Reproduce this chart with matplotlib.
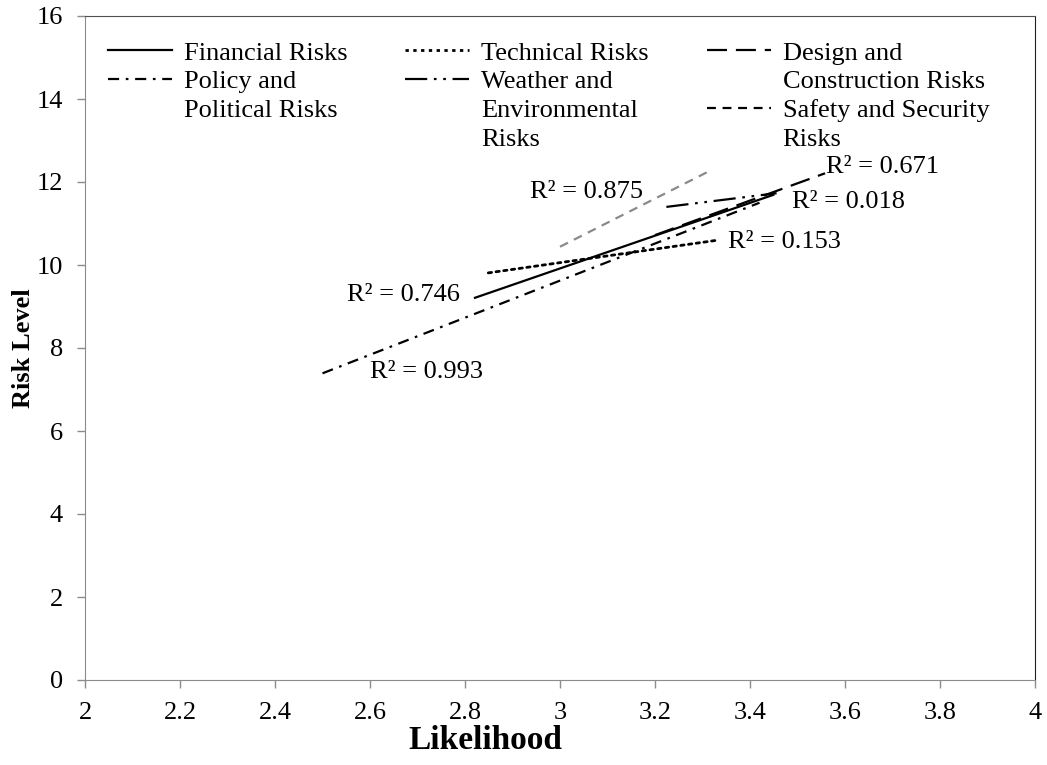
import matplotlib
matplotlib.use("Agg")
import matplotlib.pyplot as plt
from matplotlib.lines import Line2D

# trendline endpoints (likelihood, risk level)
financial_x = [2.821, 3.449]
financial_y = [9.21, 11.69]
technical_x = [2.849, 3.333]
technical_y = [9.81, 10.60]
policy_x = [2.50, 3.42]
policy_y = [7.39, 11.50]
weather_x = [3.224, 3.456]
weather_y = [11.40, 11.73]
design_x = [3.20, 3.558]
design_y = [10.72, 12.21]
safety_x = [3.00, 3.319]
safety_y = [10.44, 12.29]

r2_labels = ["R² = 0.746", "R² = 0.993", "R² = 0.875", "R² = 0.153", "R² = 0.018", "R² = 0.671"]
r2_pos = [(2.552, 9.28), (2.600, 7.43), (2.937, 11.77), (3.354, 10.56), (3.488, 11.53), (3.561, 12.37)]

xticks = [2, 2.2, 2.4, 2.6, 2.8, 3, 3.2, 3.4, 3.6, 3.8, 4]
xtick_labels = ["2", "2.2", "2.4", "2.6", "2.8", "3", "3.2", "3.4", "3.6", "3.8", "4"]
yticks = [0, 2, 4, 6, 8, 10, 12, 14, 16]

plt.rcParams['font.family'] = ['Liberation Serif', 'DejaVu Serif']

# line styles (Excel-like)
SOLID = '-'
DOT = (0, (1.2, 1.6))
DASHDOT = (0, (5, 3, 1.2, 3))
DASHDOTDOT = (0, (10, 3, 1.2, 3, 1.2, 3))
LONGDASH = (0, (9, 4))
DASH = (0, (4, 3))

FS = 19

fig = plt.figure(figsize=(10.47, 7.65), dpi=100)
ax = fig.add_axes([85/1047, 85/765, 950/1047, 664/765])

lw = 1.6
ax.plot(financial_x, financial_y, color='black', lw=lw, linestyle=SOLID)
ax.plot(technical_x, technical_y, color='black', lw=2.0, linestyle=DOT, dash_capstyle='round')
ax.plot(policy_x, policy_y, color='black', lw=lw, linestyle=DASHDOT)
ax.plot(weather_x, weather_y, color='black', lw=lw, linestyle=DASHDOTDOT)
ax.plot(design_x, design_y, color='black', lw=lw, linestyle=LONGDASH)
ax.plot(safety_x, safety_y, color='#8a8a8a', lw=lw, linestyle=DASH)

for txt, (tx, ty) in zip(r2_labels, r2_pos):
    ax.text(tx, ty, txt, fontsize=FS, ha='left', va='center')

ax.set_xlim(2, 4)
ax.set_ylim(0, 16)
ax.set_xticks(xticks)
ax.set_xticklabels(xtick_labels)
ax.set_yticks(yticks)
ax.tick_params(direction='out', length=6, width=1, color='#8c8c8c', labelsize=FS)
ax.tick_params(axis='x', pad=10)
ax.tick_params(axis='y', pad=10)

for side in ['left', 'bottom']:
    ax.spines[side].set_color('#8c8c8c')
ax.spines['top'].set_color('#505050')
ax.spines['right'].set_color('#202020')

ax.set_xlabel('Likelihood', fontsize=24, fontweight='bold')
ax.set_ylabel('Risk Level', fontsize=19, fontweight='bold')
ax.xaxis.set_label_coords((485 - 85) / 950, -0.068)
ax.yaxis.set_label_coords(-0.053, 0.5)

# legend: one entry per text line so the key sits on the first line
blank = Line2D([], [], linestyle='none')
def key(ls, w=lw):
    return Line2D([], [], color='black', lw=w, linestyle=ls)

handles = [key(SOLID), key(DASHDOT), blank, blank,
           key(DOT, 2.0), key(DASHDOTDOT), blank, blank,
           key(LONGDASH), blank, key(DASH), blank]
labels = ["Financial Risks", "Policy and", "Political Risks", " ",
          "Technical Risks", "Weather and", "Environmental", "Risks",
          "Design and", "Construction Risks", "Safety and Security", "Risks"]
leg = ax.legend(handles, labels, ncol=3, loc='upper left', bbox_to_anchor=(0.0242, 0.962),
                frameon=False, fontsize=FS, handlelength=2.42, handletextpad=0.45,
                columnspacing=2.2, labelspacing=0.2, borderaxespad=0, borderpad=0)

fig.savefig('out.png', dpi=100)
